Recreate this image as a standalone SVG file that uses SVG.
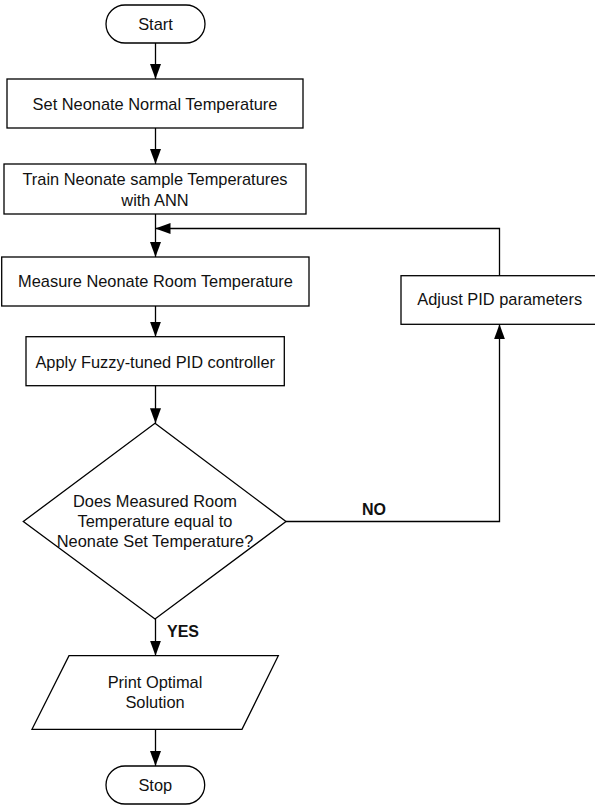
<svg xmlns="http://www.w3.org/2000/svg" width="595" height="805" viewBox="0 0 595 805">
  <style>
    .shape { fill: #ffffff; stroke: #000000; stroke-width: 1.3; }
    .conn { fill: none; stroke: #000000; stroke-width: 1.3; }
    .txt { font-family: "Liberation Sans", Arial, sans-serif; font-size: 16.4px; fill: #111111; text-anchor: middle; }
    .lbl { font-family: "Liberation Sans", Arial, sans-serif; font-size: 16px; font-weight: bold; fill: #111111; }
  </style>
  <defs>
    <marker id="arrow" markerUnits="userSpaceOnUse" markerWidth="15" markerHeight="11" refX="15" refY="5.5" orient="auto">
      <path d="M0,0 L15,5.5 L0,11 Z" fill="#000000"/>
    </marker>
  </defs>
  <rect width="595" height="805" fill="#ffffff"/>

  <g id="connectors">
    <line class="conn" x1="155.5" y1="43" x2="155.5" y2="79" marker-end="url(#arrow)"/>
    <line class="conn" x1="155.5" y1="128" x2="155.5" y2="164" marker-end="url(#arrow)"/>
    <line class="conn" x1="155.5" y1="214" x2="155.5" y2="257" marker-end="url(#arrow)"/>
    <polyline class="conn" points="499.5,275.7 499.5,228.5 155.5,228.5" marker-end="url(#arrow)"/>
    <line class="conn" x1="155.5" y1="306" x2="155.5" y2="336.7" marker-end="url(#arrow)"/>
    <line class="conn" x1="155.5" y1="385.7" x2="155.5" y2="423.3" marker-end="url(#arrow)"/>
    <polyline class="conn" points="286,521.5 499.5,521.5 499.5,324.3" marker-end="url(#arrow)"/>
    <line class="conn" x1="155.5" y1="619" x2="155.5" y2="655.7" marker-end="url(#arrow)"/>
    <line class="conn" x1="155.5" y1="729.3" x2="155.5" y2="766" marker-end="url(#arrow)"/>
    <text class="lbl" x="362" y="515">NO</text>
    <text class="lbl" x="167" y="637">YES</text>
  </g>

  <g id="start">
    <rect class="shape" x="106" y="5" width="99" height="38" rx="19" ry="19"/>
    <text class="txt" x="155.5" y="30">Start</text>
  </g>

  <g id="set-temp">
    <rect class="shape" x="7" y="79" width="296" height="49"/>
    <text class="txt" x="155" y="110">Set Neonate Normal Temperature</text>
  </g>

  <g id="train">
    <rect class="shape" x="4" y="164" width="302" height="50"/>
    <text class="txt" x="155" y="185">Train Neonate sample Temperatures</text>
    <text class="txt" x="155" y="206">with ANN</text>
  </g>

  <g id="measure">
    <rect class="shape" x="1.7" y="257" width="307.3" height="49"/>
    <text class="txt" x="155.5" y="287">Measure Neonate Room Temperature</text>
  </g>

  <g id="adjust">
    <rect class="shape" x="401" y="275.7" width="200" height="48.6"/>
    <text class="txt" x="499.7" y="305">Adjust PID parameters</text>
  </g>

  <g id="apply">
    <rect class="shape" x="26" y="336.7" width="258.3" height="49"/>
    <text class="txt" x="155.2" y="367.5">Apply Fuzzy-tuned PID controller</text>
  </g>

  <g id="decision">
    <polygon class="shape" points="155,423.3 286,521.5 155,619 23.3,521.5"/>
    <text class="txt" x="155" y="506.5">Does Measured Room</text>
    <text class="txt" x="155" y="527">Temperature equal to</text>
    <text class="txt" x="155" y="547">Neonate Set Temperature?</text>
  </g>

  <g id="print">
    <polygon class="shape" points="69,655.7 278.3,655.7 242,729.3 32,729.3"/>
    <text class="txt" x="155" y="688">Print Optimal</text>
    <text class="txt" x="155" y="708">Solution</text>
  </g>

  <g id="stop">
    <rect class="shape" x="106" y="766" width="98.7" height="38" rx="19" ry="19"/>
    <text class="txt" x="155.3" y="791">Stop</text>
  </g>
</svg>
